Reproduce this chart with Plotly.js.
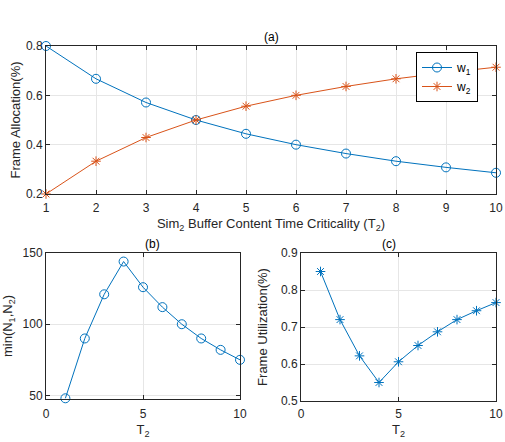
<!DOCTYPE html>
<html><head><meta charset="utf-8">
<script src="https://cdn.plot.ly/plotly-3.0.1.min.js"></script>
<style>html,body{margin:0;padding:0;background:#fff}#c{width:505px;height:442px}</style>
</head><body><div id="c"></div>
<script>
const T2 = [1,2,3,4,5,6,7,8,9,10];
const w1 = [0.8,0.667,0.571,0.5,0.444,0.4,0.364,0.333,0.308,0.286];
const w2 = [0.2,0.333,0.429,0.5,0.556,0.6,0.636,0.667,0.692,0.714];
const minN = [48,90,121,144,126,112,100,90,82,75];
const frameUtil = [0.85,0.72,0.622,0.55,0.606,0.65,0.687,0.72,0.744,0.766];

const blue = '#0072BD', orange = '#D95319', ink = '#262626';
const fam = 'Liberation Sans, Arial, sans-serif';
const font = {family:fam, size:12, color:ink};

const traces = [
  {x:T2, y:w1, name:'w<sub>1</sub>', mode:'lines+markers', xaxis:'x', yaxis:'y', cliponaxis:false,
   line:{color:blue,width:1}, marker:{symbol:'circle-open',size:9,color:blue,line:{width:1}}},
  {x:T2, y:w2, name:'w<sub>2</sub>', mode:'lines+markers', xaxis:'x', yaxis:'y', cliponaxis:false,
   line:{color:orange,width:1}, marker:{symbol:'asterisk-open',size:8,color:orange,line:{width:1}}},
  {x:T2, y:minN, showlegend:false, mode:'lines+markers', xaxis:'x2', yaxis:'y2', cliponaxis:false,
   line:{color:blue,width:1}, marker:{symbol:'circle-open',size:9,color:blue,line:{width:1}}},
  {x:T2, y:frameUtil, showlegend:false, mode:'lines+markers', xaxis:'x3', yaxis:'y3', cliponaxis:false,
   line:{color:blue,width:1}, marker:{symbol:'asterisk-open',size:8,color:blue,line:{width:1}}}
];

function ax(extra){
  return Object.assign({showline:true, mirror:'ticks', linecolor:ink, linewidth:1,
    ticks:'inside', ticklen:4, tickcolor:ink, showgrid:true, gridcolor:'#e6e6e6',
    zeroline:false, tickfont:{family:fam,size:12,color:ink}}, extra);
}
const tf = {family:fam, size:13, color:ink};

const layout = {
  width:505, height:442, margin:{l:0,r:0,t:0,b:0}, paper_bgcolor:'#fff', plot_bgcolor:'#fff',
  font:font, showlegend:true,
  legend:{x:416/505, y:1-52/442, xanchor:'left', yanchor:'top', bordercolor:'#000', borderwidth:1,
    bgcolor:'#fff', font:{family:fam,size:12,color:'#000'}, tracegroupgap:0, itemwidth:30},
  xaxis: ax({domain:[46/505,496/505], anchor:'y', range:[1,10], tickvals:[1,2,3,4,5,6,7,8,9,10], ticklabelstandoff:3,
    title:{text:'Sim<sub>2</sub> Buffer Content Time Criticality (T<sub>2</sub>)', font:tf, standoff:4}}),
  yaxis: ax({domain:[1-194/442,1-46/442], anchor:'x', range:[0.2,0.8], tickvals:[0.2,0.4,0.6,0.8], tickformat:'.1f',
    title:{text:'Frame Allocation(%)', font:tf, standoff:2}}),
  xaxis2: ax({domain:[46/505,240/505], anchor:'y2', range:[0,10], tickvals:[0,5,10], ticklabelstandoff:4,
    title:{text:'T<sub>2</sub>', font:tf, standoff:4}}),
  yaxis2: ax({domain:[1-399/442,1-253/442], anchor:'x2', range:[47.5,150], tickvals:[50,100,150],
    title:{text:'min(N<sub>1</sub>,N<sub>2</sub>)', font:tf, standoff:9}}),
  xaxis3: ax({domain:[301/505,496/505], anchor:'y3', range:[0,10], tickvals:[0,5,10], ticklabelstandoff:2,
    title:{text:'T<sub>2</sub>', font:tf, standoff:4}}),
  yaxis3: ax({domain:[1-401/442,1-253/442], anchor:'x3', range:[0.5,0.9], tickvals:[0.5,0.6,0.7,0.8,0.9], tickformat:'.1f',
    title:{text:'Frame Utilization(%)', font:tf, standoff:10}}),
  annotations:[
    {text:'(a)', x:271/505, y:1-37/442, xref:'paper', yref:'paper', yanchor:'middle', showarrow:false, font:{family:fam,size:12,color:'#000'}},
    {text:'(b)', x:143/505, y:1-244/442, xref:'paper', yref:'paper', yanchor:'middle', showarrow:false, font:{family:fam,size:12,color:'#000'}},
    {text:'(c)', x:398/505, y:1-244/442, xref:'paper', yref:'paper', yanchor:'middle', showarrow:false, font:{family:fam,size:12,color:'#000'}}
  ]
};
Plotly.newPlot('c', traces, layout, {displayModeBar:false, staticPlot:true});
</script></body></html>
